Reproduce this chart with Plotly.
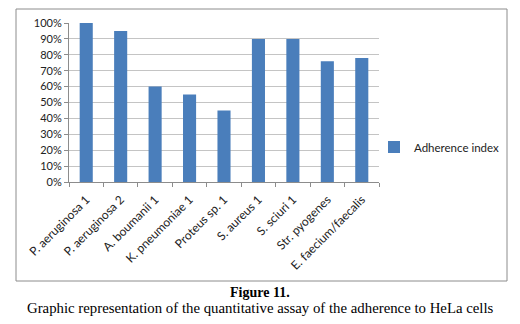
import plotly.graph_objects as go

categories = ["P. aeruginosa 1", "P. aeruginosa 2", "A. boumanii 1", "K. pneumoniae 1",
              "Proteus sp. 1", "S. aureus 1", "S. sciuri 1", "Str. pyogenes", "E. faecium/faecalis"]
adherence = [1.00, 0.95, 0.60, 0.55, 0.45, 0.90, 0.90, 0.76, 0.78]
y_ticks = [0, 0.1, 0.2, 0.3, 0.4, 0.5, 0.6, 0.7, 0.8, 0.9, 1.0]
y_labels = ["0%", "10%", "20%", "30%", "40%", "50%", "60%", "70%", "80%", "90%", "100%"]

W, H = 520, 324
L, R, T, B = 69, 379, 23, 182
pw, ph = R - L, B - T

def px(x):
    return (x - L) / pw

def py(y):
    return (B - y) / ph

fig = go.Figure()
fig.add_trace(go.Bar(x=categories, y=adherence, name="Adherence index",
                     marker=dict(color="#4A7EBB", line=dict(width=0))))

fig.update_layout(
    width=W, height=H,
    margin=dict(l=L, r=W - R, t=T, b=H - B),
    paper_bgcolor="white", plot_bgcolor="white",
    bargap=0.62,
    showlegend=True,
    legend=dict(x=px(374), y=py(147), xanchor="left", yanchor="middle",
                itemwidth=30,
                font=dict(family="Lato", size=11.5, color="#222"),
                bgcolor="rgba(0,0,0,0)"),
    font=dict(family="Lato", size=11, color="#222"),
)
fig.update_yaxes(range=[0, 1.0], tickvals=y_ticks, ticktext=y_labels,
                 showgrid=True, gridcolor="#C4C4C4", gridwidth=1,
                 showline=True, linecolor="#8C8C8C", linewidth=1,
                 ticks="outside", ticklen=4, tickcolor="#8C8C8C",
                 tickfont=dict(family="Lato", size=11, color="#222"),
                 zeroline=False, fixedrange=True)
fig.update_xaxes(tickangle=-45, showline=True, linecolor="#8C8C8C", linewidth=1,
                 ticks="outside", ticklen=4, tickcolor="#8C8C8C", tickson="boundaries",
                 ticklabelstandoff=5,
                 tickfont=dict(family="Lato", size=12, color="#222"), fixedrange=True)

# outer chart border
fig.add_shape(type="rect", xref="paper", yref="paper",
              x0=px(16), x1=px(507), y0=py(281), y1=py(9),
              line=dict(color="#8C8C8C", width=1), fillcolor="rgba(0,0,0,0)")

fig.add_annotation(text="<b>Figure 11.</b>", xref="paper", yref="paper",
                   x=px(260), y=py(292), xanchor="center", yanchor="middle",
                   showarrow=False, font=dict(family="Liberation Serif", size=14, color="black"))
fig.add_annotation(text="Graphic representation of the quantitative assay of the adherence to HeLa cells",
                   xref="paper", yref="paper",
                   x=px(260), y=py(308), xanchor="center", yanchor="middle",
                   showarrow=False, font=dict(family="Liberation Serif", size=14.8, color="black"))

fig.write_html("out.html")
